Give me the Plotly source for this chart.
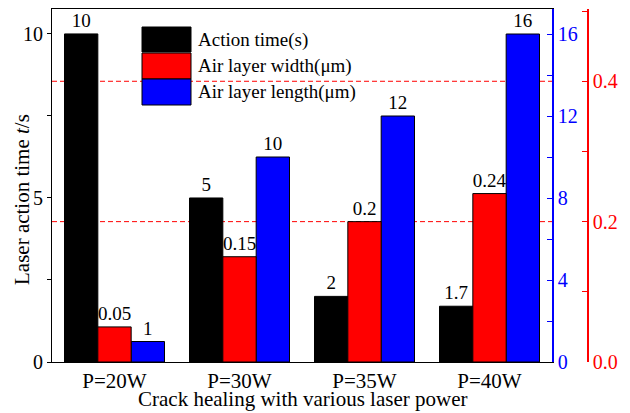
import plotly.graph_objects as go

# ---- data ----
categories = ["P=20W", "P=30W", "P=35W", "P=40W"]
action_time = [10, 5, 2, 1.7]            # s, left axis
air_width = [0.05, 0.15, 0.2, 0.24]      # um, red axis
air_length = [1, 10, 12, 16]             # um, blue axis
time_labels = ["10", "5", "2", "1.7"]
width_labels = ["0.05", "0.15", "0.2", "0.24"]
length_labels = ["1", "10", "12", "16"]
red_grid_values = [0.2, 0.4]
legend_names = ["Action time(s)", "Air layer width(\u03bcm)", "Air layer length(\u03bcm)"]

FONT = "Liberation Serif"
W, H = 630, 413
ML, MR, MT, MB = 52, 42, 9, 51
PW, PH = W - ML - MR, H - MT - MB
XDOM_END = (552 - ML) / PW


def px(x):
    return (x - ML) / PW


def py(y):
    return (H - MB - y) / PH


bw = 0.8 / 3
tf = dict(family=FONT, size=19, color="black")
fig = go.Figure()
fig.add_trace(go.Bar(
    x=categories, y=action_time, name=legend_names[0], yaxis="y",
    width=bw, offset=-0.4, marker=dict(color="#000000", line=dict(color="black", width=1)),
    text=time_labels, textposition="outside", constraintext="none", cliponaxis=False,
    textfont=tf, showlegend=False))
fig.add_trace(go.Bar(
    x=categories, y=air_width, name=legend_names[1], yaxis="y3",
    width=bw, offset=-0.4 + bw, marker=dict(color="#FF0000", line=dict(color="black", width=1)),
    text=width_labels, textposition="outside", constraintext="none", cliponaxis=False,
    textfont=tf, showlegend=False))
fig.add_trace(go.Bar(
    x=categories, y=air_length, name=legend_names[2], yaxis="y2",
    width=bw, offset=-0.4 + 2 * bw, marker=dict(color="#0000FF", line=dict(color="black", width=1)),
    text=length_labels, textposition="outside", constraintext="none", cliponaxis=False,
    textfont=tf, showlegend=False))

shapes = []
annotations = []

# red dashed grid lines of the right (red) axis, behind the bars
for gv in red_grid_values:
    shapes.append(dict(type="line", xref="x domain", yref="y3", x0=0, x1=1, y0=gv, y1=gv,
                       line=dict(color="#FF0000", width=1, dash="5px,3px"), layer="below"))

# custom legend with large swatches
sw_colors = ["#000000", "#FF0000", "#0000FF"]
sw_rows = [(27, 52), (53, 79), (79, 105)]
for name, col, (y0, y1) in zip(legend_names, sw_colors, sw_rows):
    shapes.append(dict(type="rect", xref="paper", yref="paper",
                       x0=px(142), x1=px(191), y0=py(y1), y1=py(y0),
                       fillcolor=col, line=dict(color="black", width=1), layer="above"))
    annotations.append(dict(xref="paper", yref="paper", x=px(196), y=py((y0 + y1) / 2),
                            xanchor="left", yanchor="middle", text=name, showarrow=False,
                            font=dict(family=FONT, size=19, color="black")))

annotations.append(dict(xref="paper", yref="paper", x=px(22), y=py(200),
                        xanchor="center", yanchor="middle", textangle=-90,
                        text="Laser action time <i>t</i>/s", showarrow=False,
                        font=dict(family=FONT, size=21, color="black")))
annotations.append(dict(xref="paper", yref="paper", x=px(302), y=py(413),
                        xanchor="center", yanchor="bottom",
                        text="Crack healing with various laser power", showarrow=False,
                        font=dict(family=FONT, size=21, color="black")))

fig.update_layout(
    width=W, height=H, autosize=False,
    margin=dict(l=ML, r=MR, t=MT, b=MB, pad=0),
    paper_bgcolor="white", plot_bgcolor="white",
    barmode="overlay",
    font=dict(family=FONT, color="black"),
    xaxis=dict(domain=[0, XDOM_END], type="category", range=[-0.5, 3.5],
               showline=True, linecolor="black", linewidth=1, mirror=True,
               ticks="", showgrid=False,
               tickfont=dict(family=FONT, size=21, color="black")),
    yaxis=dict(range=[0, 10.76], tickvals=[0, 5, 10], ticks="outside", ticklen=4,
               tickcolor="black", showline=True, linecolor="black", linewidth=1,
               showgrid=False, zeroline=False, tickfont=dict(family=FONT, size=20, color="black"),
               minor=dict(tickvals=[2.5, 7.5], ticks="outside", ticklen=4, tickcolor="black")),
    yaxis2=dict(overlaying="y", side="right", anchor="x", range=[0, 17.22],
                tickvals=[0, 4, 8, 12, 16], ticks="inside", ticklen=5, tickcolor="#0000FF",
                showline=True, linecolor="#0000FF", linewidth=1.5, showgrid=False,
                zeroline=False, tickfont=dict(family=FONT, size=20, color="#0000FF"),
                minor=dict(tickvals=[2, 6, 10, 14], ticks="inside", ticklen=5, tickcolor="#0000FF")),
    yaxis3=dict(overlaying="y", side="right", anchor="free", position=1.0,
                range=[0, 0.503], tickvals=[0, 0.2, 0.4], ticktext=["0.0", "0.2", "0.4"],
                ticks="inside", ticklen=5, tickcolor="#FF0000",
                showline=True, linecolor="#FF0000", linewidth=1.5,
                showgrid=False, zeroline=False,
                tickfont=dict(family=FONT, size=20, color="#FF0000"),
                minor=dict(tickvals=[0.1, 0.3, 0.5], ticks="inside", ticklen=5, tickcolor="#FF0000")),
    shapes=shapes, annotations=annotations,
)

fig.write_html("out.html")
